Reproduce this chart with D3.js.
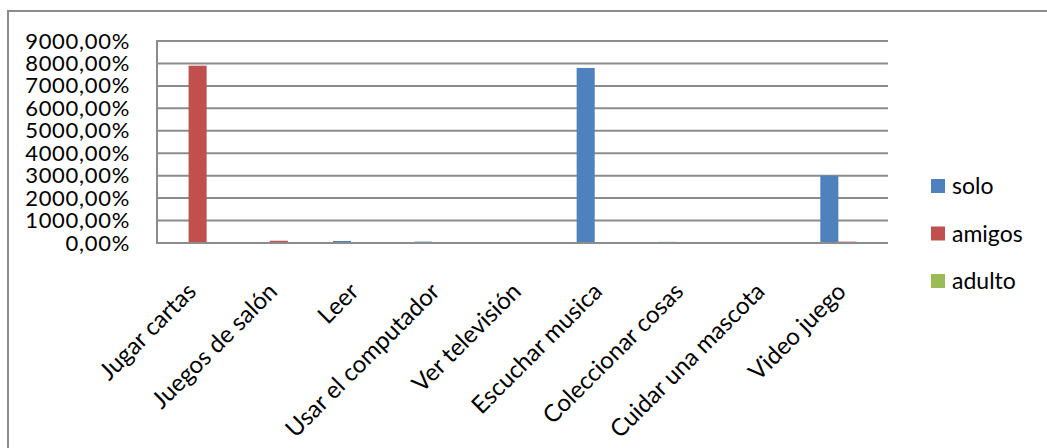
<!DOCTYPE html>
<html>
<head>
<meta charset="utf-8">
<script src="https://cdn.jsdelivr.net/npm/d3@7/dist/d3.min.js"></script>
<style>
  html, body { margin: 0; padding: 0; background: #fff; }
  svg { display: block; font-family: Lato, "Open Sans", sans-serif; }
</style>
</head>
<body>
<svg id="chart" width="1047" height="448"></svg>
<script>
// Activities and the share (in %) for each companion group
const categories = ["Jugar cartas", "Juegos de salón", "Leer", "Usar el computador",
  "Ver televisión", "Escuchar musica", "Coleccionar cosas", "Cuidar una mascota", "Video juego"];
const seriesNames = ["solo", "amigos", "adulto"];
const solo   = [0, 0, 90, 60, 0, 7800, 50, 0, 3000];
const amigos = [7900, 100, 0, 0, 0, 0, 0, 0, 60];
const adulto = [0, 0, 0, 0, 0, 0, 0, 0, 0];
const yTicks = [0, 1000, 2000, 3000, 4000, 5000, 6000, 7000, 8000, 9000];
const colors = ["#4F81BD", "#C0504D", "#9BBB59"];

const values = [solo, amigos, adulto];
const svg = d3.select("#chart");

// chart frame
svg.append("rect")
  .attr("x", 8).attr("y", 11).attr("width", 1060).attr("height", 460)
  .attr("fill", "#fff").attr("stroke", "#8c8c8c").attr("stroke-width", 2);

const plot = { left: 157, right: 888, top: 41, bottom: 243 };

const y = d3.scaleLinear().domain([0, 9000]).range([plot.bottom, plot.top]);
const x0 = d3.scaleBand().domain(categories).range([plot.left, plot.right]).padding(0);
const bw = x0.bandwidth();
const barW = bw / (3 + 1.5);
const x1 = d3.scaleBand().domain(seriesNames)
  .range([bw / 2 - 1.5 * barW, bw / 2 + 1.5 * barW]).padding(0);

const fmt = v => d3.format(".2f")(v).replace(".", ",") + "%";

// horizontal gridlines
svg.append("g")
  .selectAll("line").data(yTicks.filter(t => t > 0)).join("line")
  .attr("x1", plot.left).attr("x2", plot.right)
  .attr("y1", d => y(d)).attr("y2", d => y(d))
  .attr("stroke", "#8c8c8c").attr("stroke-width", 2);

// y axis labels
const yAxis = d3.axisLeft(y).tickValues(yTicks).tickFormat(fmt).tickSize(0).tickPadding(0);
const yg = svg.append("g").attr("transform", `translate(130,0)`).call(yAxis);
yg.select(".domain").remove();
yg.selectAll("text").attr("font-size", 22).attr("fill", "#000")
  .attr("letter-spacing", 0.7)
  .attr("font-family", "Lato, 'Open Sans', sans-serif");

// bars
const groups = svg.append("g").selectAll("g").data(categories).join("g")
  .attr("transform", d => `translate(${x0(d)},0)`);
groups.selectAll("rect")
  .data((d, i) => seriesNames.map((s, k) => ({ s, k, v: values[k][i] })))
  .join("rect")
  .attr("x", d => x1(d.s))
  .attr("width", x1.bandwidth())
  .attr("y", d => y(d.v))
  .attr("height", d => y(0) - y(d.v))
  .attr("fill", d => colors[d.k]);

// plot axes lines
svg.append("line")
  .attr("x1", plot.left).attr("x2", plot.left)
  .attr("y1", plot.top - 1).attr("y2", plot.bottom + 1)
  .attr("stroke", "#8c8c8c").attr("stroke-width", 2);
svg.append("line")
  .attr("x1", plot.left).attr("x2", plot.right)
  .attr("y1", plot.bottom).attr("y2", plot.bottom)
  .attr("stroke", "#8c8c8c").attr("stroke-width", 2);

// category labels, rotated
svg.append("g").selectAll("text").data(categories).join("text")
  .attr("transform", d => `translate(${x0(d) + bw / 2},${plot.bottom + 50}) rotate(-45)`)
  .attr("text-anchor", "end")
  .attr("font-size", 24)
  .attr("fill", "#000")
  .text(d => d);

// legend
const legend = svg.append("g").selectAll("g").data(seriesNames).join("g")
  .attr("transform", (d, i) => `translate(931,${179 + i * 47.5})`);
legend.append("rect").attr("width", 14).attr("height", 14)
  .attr("fill", (d, i) => colors[i]);
legend.append("text").attr("x", 21).attr("y", 7).attr("dy", "0.35em")
  .attr("font-size", 23).attr("fill", "#000").text(d => d);
</script>
</body>
</html>
